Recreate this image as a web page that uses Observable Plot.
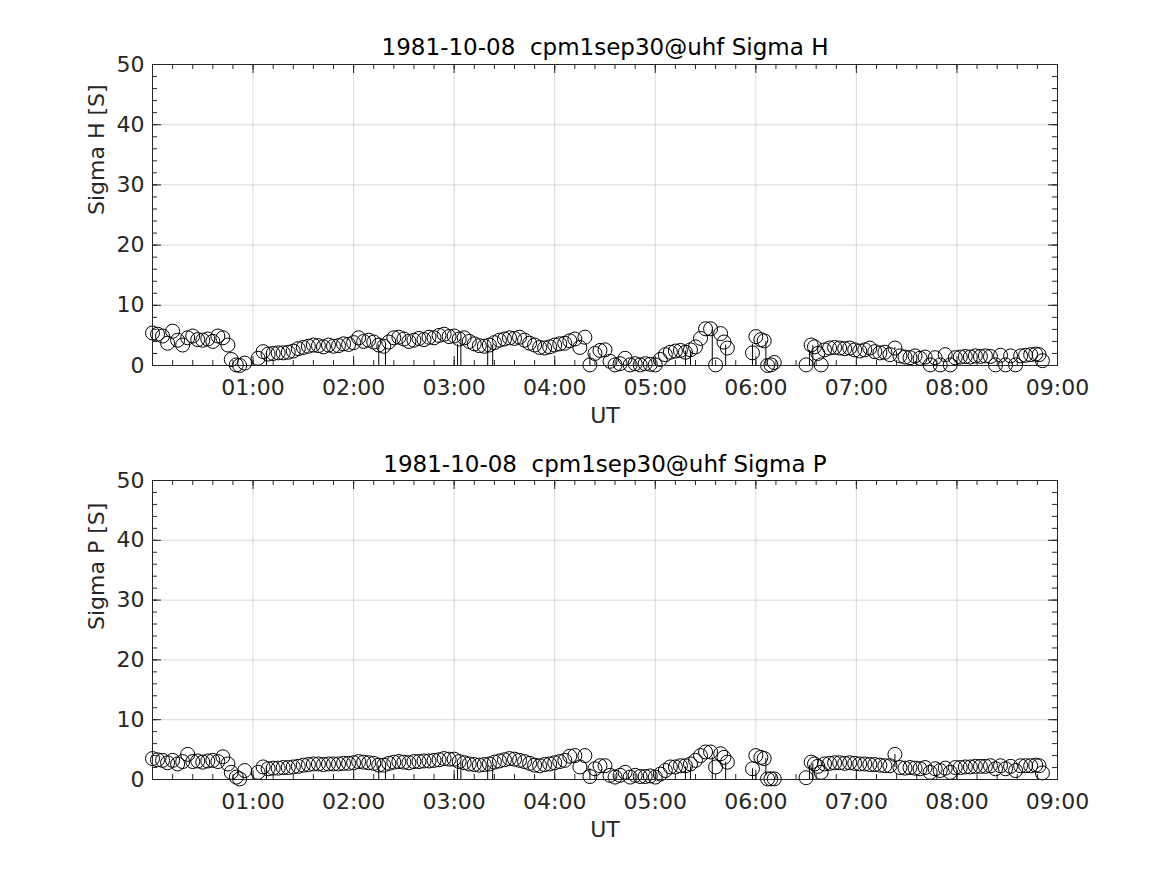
<!DOCTYPE html>
<html><head><meta charset="utf-8">
<script src="https://cdn.jsdelivr.net/npm/d3@7"></script>
<script src="https://cdn.jsdelivr.net/npm/@observablehq/plot@0.6"></script>
<style>
body{margin:0;background:#fff;}
#chart svg{display:block;}
</style></head><body><div id="chart"></div>
<script>
const titleH = "1981-10-08\u00a0 cpm1sep30@uhf Sigma H";
const titleP = "1981-10-08\u00a0 cpm1sep30@uhf Sigma P";
const yLabelH = "Sigma H [S]";
const yLabelP = "Sigma P [S]";
const xLabel = "UT";

// time in minutes after 00:00 UT
const timeMin = [
  0,3,6,9,12,15,18,21,24,27,30,33,36,39,42,45,47,50,52,55,
  63,66,69,72,75,78,81,84,87,90,93,96,99,102,105,108,111,114,117,120,
  123,126,129,132,135,138,141,144,147,150,153,156,159,162,165,168,171,174,177,180,
  183,186,189,192,195,198,201,204,207,210,213,216,219,222,225,228,231,234,237,240,
  243,246,249,252,255,258,261,264,267,270,273,276,279,282,285,288,291,294,297,300,
  303,306,309,312,315,318,321,324,327,330,333,336,339,341,343,
  358,360,363,365,367,369,371,
  390,393,395,397,399,401,404,407,410,413,416,419,422,425,428,431,434,437,440,443,
  446,449,452,455,458,461,464,467,470,473,476,479,482,485,488,491,494,497,500,503,
  506,509,512,515,518,521,524,527,529,531
];
const sigmaH = [
  5.4,5.2,4.9,3.7,5.7,4.2,3.4,4.6,4.9,4.3,4.2,4.4,4.0,4.9,4.6,3.4,1.0,0.1,0.0,0.4,
  1.2,2.3,1.9,2.0,2.1,2.1,2.2,2.4,2.8,3.0,3.2,3.4,3.3,3.1,3.4,3.2,3.3,3.6,3.5,3.8,
  4.6,4.0,4.2,3.9,3.4,3.2,3.9,4.6,4.7,4.4,4.0,4.2,4.5,4.3,4.7,4.6,5.0,5.2,4.8,4.9,
  4.4,4.6,4.0,3.6,3.3,3.2,3.4,3.8,4.2,4.4,4.6,4.5,4.7,4.2,3.7,3.4,3.0,2.9,3.1,3.4,
  3.6,3.7,4.1,4.4,3.0,4.7,0.1,2.0,2.5,2.6,0.7,0.1,0.3,1.2,0.1,0.3,0.1,0.3,0.2,0.1,
  1.0,1.8,2.2,2.4,2.5,2.2,2.6,3.1,4.5,6.1,6.1,0.1,5.3,3.9,2.9,
  2.1,4.8,4.3,4.1,0.0,0.1,0.5,
  0.1,3.4,3.1,2.0,0.1,2.6,2.9,3.0,2.9,2.8,2.9,2.6,2.4,2.6,2.9,2.3,2.1,2.2,1.8,2.9,
  1.6,1.4,1.3,1.6,1.2,1.4,0.1,1.3,0.1,1.8,0.1,1.3,1.4,1.5,1.4,1.6,1.5,1.6,1.5,0.1,
  1.7,0.1,1.6,0.1,1.6,1.7,1.8,1.9,1.8,0.8
];
const sigmaP = [
  3.5,3.3,3.2,2.8,3.2,2.6,3.0,4.2,3.0,3.1,2.9,3.1,3.2,3.0,3.8,2.6,1.2,0.4,0.1,1.5,
  1.2,2.1,1.8,1.9,1.9,2.0,2.0,2.1,2.2,2.4,2.5,2.6,2.6,2.5,2.6,2.6,2.6,2.7,2.7,2.8,
  3.0,2.9,2.8,2.7,2.4,2.4,2.7,2.9,3.0,2.9,2.8,3.0,3.0,3.1,3.1,3.2,3.3,3.5,3.4,3.4,
  3.0,2.8,2.6,2.5,2.4,2.5,2.6,2.9,3.1,3.3,3.5,3.4,3.2,3.0,2.7,2.4,2.3,2.5,2.6,2.8,
  3.0,3.2,3.9,4.0,2.1,4.0,0.5,1.8,2.3,2.3,0.7,0.4,0.7,1.2,0.4,0.7,0.5,0.5,0.6,0.4,
  0.9,1.5,2.1,2.1,2.3,2.3,2.6,3.2,4.0,4.6,4.6,2.1,4.3,3.7,2.9,
  1.8,4.0,3.7,3.5,0.1,0.1,0.1,
  0.3,2.9,2.6,2.2,1.2,2.6,2.7,2.8,2.8,2.7,2.8,2.7,2.6,2.6,2.5,2.5,2.4,2.3,2.3,4.2,
  2.0,1.9,2.0,1.9,1.8,2.0,1.2,1.8,1.5,1.9,1.2,2.0,2.0,2.1,2.1,2.2,2.2,2.2,2.3,1.8,
  2.3,1.8,2.2,1.5,2.3,2.3,2.3,2.4,2.3,1.1
];

// visible error bars (minutes, lower and upper ends)
const barTime = [68,135,139,182,184,200,203,261,318,321,334,342,358,366,392,394,443];
const barLoH  = [0,0,0,0,0,0,0,0,0,0,0,0,0,0,0,0,2.6];
const barHiH  = [2.0,3.4,3.5,3.5,4.4,3.3,3.4,2.0,2.4,2.4,6.0,3.4,3.5,4.0,2.5,3.3,3.0];
const barLoP  = [0,0,0,0,0,0,0,0,0,0,0,0,0,0.6,0,0,2.0];
const barHiP  = [1.9,2.3,2.3,2.4,2.8,2.3,2.4,1.8,2.1,2.1,3.7,2.9,1.8,3.5,2.3,2.6,4.2];

const xTicks = [60,120,180,240,300,360,420,480,540];
const xTickLabels = ["01:00","02:00","03:00","04:00","05:00","06:00","07:00","08:00","09:00"];
const yTicks = [0,10,20,30,40,50];
const xMinor = d3.range(0, 541, 12);
const yMinor = d3.range(0, 51, 2);

const W = 1167, ML = 152, MR = 110;
const axisColor = "#262626";

function panel(vals, bLo, bHi, title, ylabel, height, mt, mb, titleDy) {
  const ph = height - mt - mb;
  const pw = W - ML - MR;
  const data = timeMin.map((t, i) => ({t, v: vals[i]}));
  const bars = barTime.map((t, i) => ({t, lo: bLo[i], hi: bHi[i]}));
  const xMaj = [0, ...xTicks];
  return Plot.plot({
    width: W, height, marginLeft: ML, marginRight: MR, marginTop: mt, marginBottom: mb,
    x: {domain: [0, 540]},
    y: {domain: [0, 50]},
    style: {fontFamily: "DejaVu Sans", fontSize: "22px", color: axisColor, background: "white", overflow: "visible"},
    marks: [
      Plot.ruleX(xTicks, {x: d => d, stroke: "#000", strokeOpacity: 0.15}),
      Plot.ruleY(yTicks, {y: d => d, stroke: "#000", strokeOpacity: 0.15}),
      Plot.ruleX(xMinor, {x: d => d, insetTop: ph - 5, stroke: axisColor}),
      Plot.ruleX(xMinor, {x: d => d, insetBottom: ph - 5, stroke: axisColor}),
      Plot.ruleX(xMaj, {x: d => d, insetTop: ph - 9, stroke: axisColor}),
      Plot.ruleX(xMaj, {x: d => d, insetBottom: ph - 9, stroke: axisColor}),
      Plot.ruleY(yMinor, {y: d => d, insetRight: pw - 5, stroke: axisColor}),
      Plot.ruleY(yMinor, {y: d => d, insetLeft: pw - 5, stroke: axisColor}),
      Plot.ruleY(yTicks, {y: d => d, insetRight: pw - 9, stroke: axisColor}),
      Plot.ruleY(yTicks, {y: d => d, insetLeft: pw - 9, stroke: axisColor}),
      Plot.ruleX(bars, {x: "t", y1: "lo", y2: "hi", stroke: "#000", strokeWidth: 1}),
      Plot.dot(data, {x: "t", y: "v", r: 7, stroke: "#000", strokeWidth: 1, fill: "none"}),
      Plot.frame({stroke: axisColor}),
      Plot.axisX(xTicks, {tickFormat: d => xTickLabels[xTicks.indexOf(d)], tickSize: 0, tickPadding: 14, label: null}),
      Plot.axisY(yTicks, {tickSize: 0, tickPadding: 8, label: null}),
      Plot.text([title], {text: d => d, frameAnchor: "top", dy: titleDy, fontSize: 23, fill: "#000"}),
      Plot.text([xLabel], {text: d => d, frameAnchor: "bottom", dy: 57, fill: axisColor}),
      Plot.text([ylabel], {text: d => d, frameAnchor: "left", dx: -56, rotate: -90, fill: axisColor})
    ]
  });
}

const root = document.getElementById("chart");
root.appendChild(panel(sigmaH, barLoH, barHiH, titleH, yLabelH, 437, 64, 72, -26));
root.appendChild(panel(sigmaP, barLoP, barHiP, titleP, yLabelP, 438, 43, 96, -25));
</script>
</body></html>
